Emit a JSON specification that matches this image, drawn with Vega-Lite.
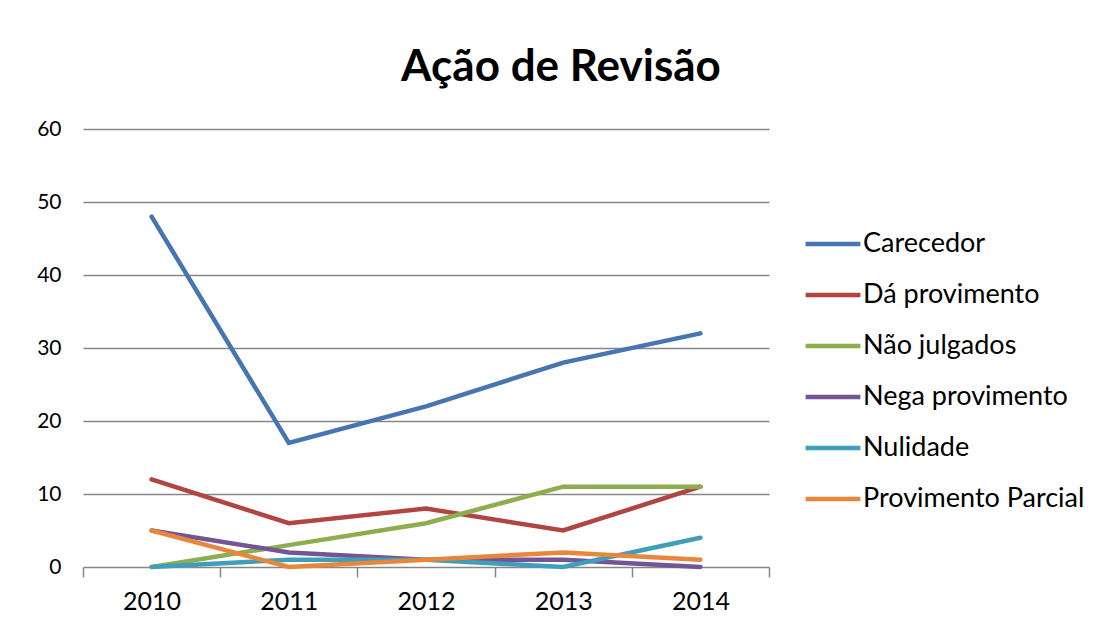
{
  "$schema": "https://vega.github.io/schema/vega-lite/v6.json",
  "autosize": {"type": "none"},
  "width": 686,
  "height": 438,
  "padding": {"left": 83, "top": 129, "right": 333, "bottom": 67},
  "background": "white",
  "config": {
    "view": {"stroke": null},
    "font": "Lato"
  },
  "title": {
    "text": "Ação de Revisão",
    "fontSize": 44,
    "fontWeight": "bold",
    "font": "Lato",
    "color": "#000000",
    "anchor": "middle",
    "dx": 135,
    "offset": -7,
    "baseline": "alphabetic"
  },
  "data": {
    "values": [
      {"ano": "2010", "serie": "Carecedor", "valor": 48},
      {"ano": "2011", "serie": "Carecedor", "valor": 17},
      {"ano": "2012", "serie": "Carecedor", "valor": 22},
      {"ano": "2013", "serie": "Carecedor", "valor": 28},
      {"ano": "2014", "serie": "Carecedor", "valor": 32},
      {"ano": "2010", "serie": "Dá provimento", "valor": 12},
      {"ano": "2011", "serie": "Dá provimento", "valor": 6},
      {"ano": "2012", "serie": "Dá provimento", "valor": 8},
      {"ano": "2013", "serie": "Dá provimento", "valor": 5},
      {"ano": "2014", "serie": "Dá provimento", "valor": 11},
      {"ano": "2010", "serie": "Não julgados", "valor": 0},
      {"ano": "2011", "serie": "Não julgados", "valor": 3},
      {"ano": "2012", "serie": "Não julgados", "valor": 6},
      {"ano": "2013", "serie": "Não julgados", "valor": 11},
      {"ano": "2014", "serie": "Não julgados", "valor": 11},
      {"ano": "2010", "serie": "Nega provimento", "valor": 5},
      {"ano": "2011", "serie": "Nega provimento", "valor": 2},
      {"ano": "2012", "serie": "Nega provimento", "valor": 1},
      {"ano": "2013", "serie": "Nega provimento", "valor": 1},
      {"ano": "2014", "serie": "Nega provimento", "valor": 0},
      {"ano": "2010", "serie": "Nulidade", "valor": 0},
      {"ano": "2011", "serie": "Nulidade", "valor": 1},
      {"ano": "2012", "serie": "Nulidade", "valor": 1},
      {"ano": "2013", "serie": "Nulidade", "valor": 0},
      {"ano": "2014", "serie": "Nulidade", "valor": 4},
      {"ano": "2010", "serie": "Provimento Parcial", "valor": 5},
      {"ano": "2011", "serie": "Provimento Parcial", "valor": 0},
      {"ano": "2012", "serie": "Provimento Parcial", "valor": 1},
      {"ano": "2013", "serie": "Provimento Parcial", "valor": 2},
      {"ano": "2014", "serie": "Provimento Parcial", "valor": 1}
    ]
  },
  "mark": {"type": "line", "strokeWidth": 4.5, "strokeCap": "round", "strokeJoin": "miter"},
  "encoding": {
    "x": {
      "field": "ano",
      "type": "nominal",
      "scale": {"type": "band", "paddingInner": 0, "paddingOuter": 0},
      "axis": {
        "title": null,
        "labelAngle": 0,
        "labelFontSize": 25,
        "labelColor": "#000000",
        "labelPadding": 12,
        "tickBand": "extent",
        "tickSize": 10,
        "tickColor": "#868686",
        "tickWidth": 1.5,
        "domain": false,
        "grid": false
      }
    },
    "y": {
      "field": "valor",
      "type": "quantitative",
      "scale": {"domain": [0, 60]},
      "axis": {
        "title": null,
        "values": [0, 10, 20, 30, 40, 50, 60],
        "labelFontSize": 21,
        "labelColor": "#000000",
        "labelPadding": 22,
        "ticks": false,
        "domain": false,
        "grid": true,
        "gridColor": "#868686",
        "gridWidth": 1.5
      }
    },
    "color": {
      "field": "serie",
      "type": "nominal",
      "scale": {
        "domain": ["Carecedor", "Dá provimento", "Não julgados", "Nega provimento", "Nulidade", "Provimento Parcial"],
        "range": ["#4675B2", "#B04542", "#8CAE4E", "#735596", "#3F9FBA", "#E8873C"]
      },
      "legend": {
        "title": null,
        "orient": "none",
        "legendX": 720,
        "legendY": 85,
        "symbolType": "stroke",
        "symbolSize": 3000,
        "symbolStrokeWidth": 4.5,
        "labelFontSize": 27,
        "labelColor": "#000000",
        "labelOffset": 0,
        "rowPadding": 8,
        "labelLimit": 400
      }
    }
  }
}
